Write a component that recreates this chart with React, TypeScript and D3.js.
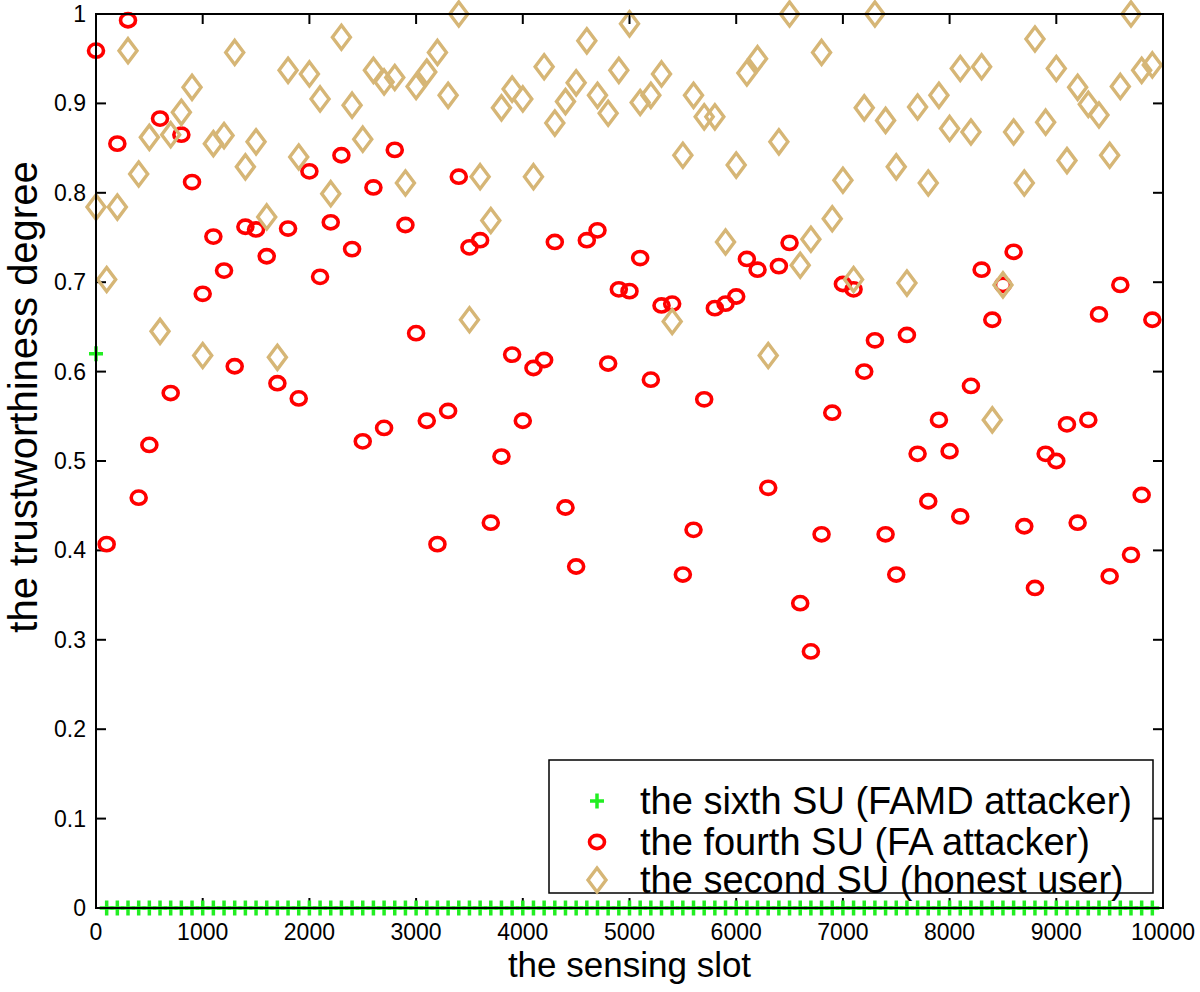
import { useEffect, useRef } from "react";
import * as d3 from "d3";

// sensing slots (every 100 slots)
const slots = [
  0, 100, 200, 300, 400, 500, 600, 700, 800, 900,
  1000, 1100, 1200, 1300, 1400, 1500, 1600, 1700, 1800, 1900,
  2000, 2100, 2200, 2300, 2400, 2500, 2600, 2700, 2800, 2900,
  3000, 3100, 3200, 3300, 3400, 3500, 3600, 3700, 3800, 3900,
  4000, 4100, 4200, 4300, 4400, 4500, 4600, 4700, 4800, 4900,
  5000, 5100, 5200, 5300, 5400, 5500, 5600, 5700, 5800, 5900,
  6000, 6100, 6200, 6300, 6400, 6500, 6600, 6700, 6800, 6900,
  7000, 7100, 7200, 7300, 7400, 7500, 7600, 7700, 7800, 7900,
  8000, 8100, 8200, 8300, 8400, 8500, 8600, 8700, 8800, 8900,
  9000, 9100, 9200, 9300, 9400, 9500, 9600, 9700, 9800, 9900,
];

// the sixth SU (FAMD attacker)
const sixthSU = [
  0.62, 0, 0, 0, 0, 0, 0, 0, 0, 0,
  0, 0, 0, 0, 0, 0, 0, 0, 0, 0,
  0, 0, 0, 0, 0, 0, 0, 0, 0, 0,
  0, 0, 0, 0, 0, 0, 0, 0, 0, 0,
  0, 0, 0, 0, 0, 0, 0, 0, 0, 0,
  0, 0, 0, 0, 0, 0, 0, 0, 0, 0,
  0, 0, 0, 0, 0, 0, 0, 0, 0, 0,
  0, 0, 0, 0, 0, 0, 0, 0, 0, 0,
  0, 0, 0, 0, 0, 0, 0, 0, 0, 0,
  0, 0, 0, 0, 0, 0, 0, 0, 0, 0,
];

// the fourth SU (FA attacker)
const fourthSU = [
  0.959, 0.407, 0.855, 0.993, 0.459, 0.518, 0.883, 0.576, 0.865, 0.812,
  0.687, 0.751, 0.713, 0.606, 0.762, 0.759, 0.729, 0.587, 0.760, 0.570,
  0.824, 0.706, 0.767, 0.842, 0.737, 0.522, 0.806, 0.537, 0.848, 0.764,
  0.643, 0.545, 0.407, 0.556, 0.818, 0.739, 0.747, 0.431, 0.505, 0.619,
  0.545, 0.604, 0.613, 0.745, 0.448, 0.382, 0.747, 0.758, 0.609, 0.692,
  0.690, 0.727, 0.591, 0.674, 0.676, 0.373, 0.423, 0.569, 0.671, 0.676,
  0.684, 0.726, 0.714, 0.470, 0.718, 0.744, 0.341, 0.287, 0.418, 0.554,
  0.698, 0.692, 0.600, 0.635, 0.418, 0.373, 0.641, 0.508, 0.455, 0.546,
  0.511, 0.438, 0.584, 0.714, 0.658, 0.697, 0.734, 0.427, 0.358, 0.508,
  0.500, 0.541, 0.431, 0.546, 0.664, 0.371, 0.697, 0.395, 0.462, 0.658,
];

// the second SU (honest user)
const secondSU = [
  0.784, 0.703, 0.784, 0.959, 0.821, 0.862, 0.645, 0.865, 0.890, 0.918,
  0.618, 0.855, 0.864, 0.957, 0.829, 0.857, 0.773, 0.616, 0.937, 0.840,
  0.933, 0.905, 0.799, 0.974, 0.898, 0.860, 0.937, 0.924, 0.929, 0.811,
  0.919, 0.935, 0.957, 0.909, 1.0, 0.658, 0.818, 0.769, 0.895, 0.916,
  0.905, 0.818, 0.941, 0.878, 0.902, 0.923, 0.970, 0.909, 0.889, 0.937,
  0.989, 0.901, 0.909, 0.933, 0.656, 0.842, 0.909, 0.885, 0.885, 0.745,
  0.831, 0.934, 0.950, 0.618, 0.857, 1.0, 0.719, 0.748, 0.957, 0.771,
  0.814, 0.703, 0.895, 1.0, 0.881, 0.829, 0.699, 0.896, 0.811, 0.909,
  0.872, 0.939, 0.868, 0.941, 0.546, 0.697, 0.868, 0.811, 0.972, 0.879,
  0.939, 0.836, 0.918, 0.899, 0.887, 0.842, 0.919, 1.0, 0.937, 0.943,
];

const xTicks = [0, 1000, 2000, 3000, 4000, 5000, 6000, 7000, 8000, 9000, 10000];
const yTicks = [0, 0.1, 0.2, 0.3, 0.4, 0.5, 0.6, 0.7, 0.8, 0.9, 1];

const legendLabels = [
  "the sixth SU (FAMD attacker)",
  "the fourth SU (FA attacker)",
  "the second SU (honest user)",
];

const GREEN = "#22ee22";
const RED = "#ff0000";
const TAN = "#d6b676";
const FONT = "Arial, 'Liberation Sans', Helvetica, sans-serif";

type G = d3.Selection<SVGGElement, unknown, null, undefined>;

function plus(g: G, cx: number, cy: number) {
  g.append("path")
    .attr("d", `M${cx - 7},${cy}H${cx + 7}M${cx},${cy - 7.5}V${cy + 7.5}`)
    .attr("stroke", GREEN)
    .attr("stroke-width", 3.5)
    .attr("fill", "none");
}
function circle(g: G, cx: number, cy: number) {
  g.append("ellipse")
    .attr("cx", cx).attr("cy", cy)
    .attr("rx", 7.5).attr("ry", 6.6)
    .attr("stroke", RED)
    .attr("stroke-width", 3.6)
    .attr("fill", "none");
}
function diamond(g: G, cx: number, cy: number) {
  g.append("path")
    .attr("d", `M${cx},${cy - 12}L${cx + 9},${cy}L${cx},${cy + 12}L${cx - 9},${cy}Z`)
    .attr("stroke", TAN)
    .attr("stroke-width", 3.4)
    .attr("fill", "none");
}

export default function App() {
  const ref = useRef<SVGSVGElement | null>(null);

  useEffect(() => {
    document.body.style.margin = "0";
    const svg = d3.select(ref.current!);
    svg.selectAll("*").remove();

    const x = d3.scaleLinear().domain([0, 10000]).range([96, 1163]);
    const y = d3.scaleLinear().domain([0, 1]).range([908, 14]);
    const [x0, x1] = x.range();
    const [y0, y1] = y.range();

    svg.append("rect").attr("width", 1200).attr("height", 992).attr("fill", "#fff");

    // ticks (inside, all four sides)
    const ticks = svg.append("g").attr("stroke", "#000").attr("stroke-width", 2);
    xTicks.forEach((t) => {
      ticks.append("line").attr("x1", x(t)).attr("x2", x(t)).attr("y1", y0).attr("y2", y0 - 10);
      ticks.append("line").attr("x1", x(t)).attr("x2", x(t)).attr("y1", y1).attr("y2", y1 + 10);
    });
    yTicks.forEach((t) => {
      ticks.append("line").attr("x1", x0).attr("x2", x0 + 10).attr("y1", y(t)).attr("y2", y(t));
      ticks.append("line").attr("x1", x1).attr("x2", x1 - 10).attr("y1", y(t)).attr("y2", y(t));
    });

    // tick labels
    svg.append("g")
      .selectAll("text")
      .data(xTicks)
      .join("text")
      .attr("x", (d) => x(d))
      .attr("y", 940)
      .attr("text-anchor", "middle")
      .attr("font-family", FONT)
      .attr("font-size", 23)
      .text((d) => String(d));
    svg.append("g")
      .selectAll("text")
      .data(yTicks)
      .join("text")
      .attr("x", 86)
      .attr("y", (d) => y(d) + 8)
      .attr("text-anchor", "end")
      .attr("font-family", FONT)
      .attr("font-size", 23)
      .text((d) => d3.format("~g")(d));

    // axis labels
    svg.append("text")
      .attr("x", (x0 + x1) / 2)
      .attr("y", 977)
      .attr("text-anchor", "middle")
      .attr("font-family", FONT)
      .attr("font-size", 35)
      .text("the sensing slot");
    svg.append("text")
      .attr("transform", `translate(37,397) rotate(-90)`)
      .attr("text-anchor", "middle")
      .attr("font-family", FONT)
      .attr("font-size", 40)
      .text("the trustworthiness degree");

    // markers
    const marks = svg.append("g");
    slots.forEach((s, i) => circle(marks, x(s), y(fourthSU[i])));
    slots.forEach((s, i) => diamond(marks, x(s), y(secondSU[i])));
    slots.forEach((s, i) => plus(marks, x(s), y(sixthSU[i])));

    // box
    svg.append("rect")
      .attr("x", x0).attr("y", y1)
      .attr("width", x1 - x0).attr("height", y0 - y1)
      .attr("fill", "none").attr("stroke", "#000").attr("stroke-width", 2);

    // legend
    const lg = svg.append("g");
    lg.append("rect")
      .attr("x", 549).attr("y", 760)
      .attr("width", 604).attr("height", 133)
      .attr("fill", "#fff").attr("stroke", "#000").attr("stroke-width", 1.5);
    const rowY = [801, 842, 880];
    legendLabels.forEach((label, i) => {
      if (i === 0) plus(lg, 597, rowY[i]);
      if (i === 1) circle(lg, 597, rowY[i]);
      if (i === 2) diamond(lg, 597, rowY[i]);
      lg.append("text")
        .attr("x", 640)
        .attr("y", rowY[i] + 13)
        .attr("font-family", FONT)
        .attr("font-size", 38)
        .text(label);
    });
  }, []);

  return <svg ref={ref} width={1200} height={992} style={{ display: "block" }} />;
}
